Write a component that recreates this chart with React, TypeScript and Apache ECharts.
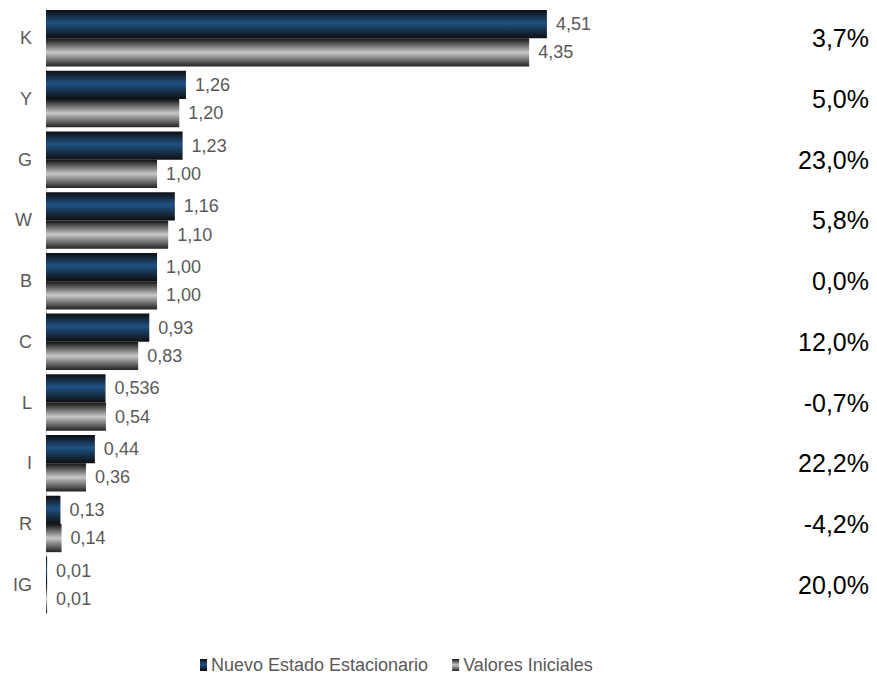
import React, { useEffect, useRef } from "react";
import * as echarts from "echarts";

const categories = ["K", "Y", "G", "W", "B", "C", "L", "I", "R", "IG"];
const nuevoEstado = [4.51, 1.26, 1.23, 1.16, 1.0, 0.93, 0.536, 0.44, 0.13, 0.01];
const valoresIniciales = [4.35, 1.2, 1.0, 1.1, 1.0, 0.83, 0.54, 0.36, 0.14, 0.01];
const variacion = ["3,7%", "5,0%", "23,0%", "5,8%", "0,0%", "12,0%", "-0,7%", "22,2%", "-4,2%", "20,0%"];

const FONT = "'Liberation Sans', Arial, sans-serif";
const GREY = "#595959";

const fmt = (v: number) => {
  const dec = (String(v).split(".")[1] || "").length;
  return v.toFixed(Math.max(2, dec)).replace(".", ",");
};

const blueGrad = new echarts.graphic.LinearGradient(0, 0, 0, 1, [
  { offset: 0, color: "#0e0e10" },
  { offset: 0.45, color: "#1f5283" },
  { offset: 1, color: "#0e0e10" },
]);
const greyGrad = new echarts.graphic.LinearGradient(0, 0, 0, 1, [
  { offset: 0, color: "#111111" },
  { offset: 0.5, color: "#c8c8c8" },
  { offset: 1, color: "#222222" },
]);

export default function App() {
  const ref = useRef<HTMLDivElement>(null);
  useEffect(() => {
    if (!ref.current) return;
    const chart = echarts.init(ref.current, undefined, { renderer: "svg" });
    const label = {
      show: true,
      position: "right" as const,
      distance: 9,
      color: GREY,
      fontSize: 18,
      fontFamily: FONT,
      formatter: (p: any) => fmt(p.value),
    };
    chart.setOption({
      animation: false,
      backgroundColor: "#ffffff",
      textStyle: { fontFamily: FONT },
      grid: { left: 46, right: 8, top: 8, bottom: 62, containLabel: false },
      legend: {
        top: 656,
        left: 200,
        padding: 0,
        itemWidth: 7,
        itemHeight: 12,
        itemGap: 24,
        icon: "rect",
        textStyle: { color: GREY, fontSize: 18, fontFamily: FONT, padding: [0, 0, 0, -1] },
        data: [
          { name: "Nuevo Estado Estacionario", itemStyle: { color: blueGrad } },
          { name: "Valores Iniciales", itemStyle: { color: greyGrad } },
        ],
      },
      xAxis: {
        type: "value",
        min: 0,
        max: 7.41,
        show: false,
      },
      yAxis: [
        {
          type: "category",
          data: categories,
          inverse: true,
          axisLine: { show: true, lineStyle: { color: "#d9d9d9", width: 1 } },
          axisTick: { show: false },
          axisLabel: { color: GREY, fontSize: 18, fontFamily: FONT, margin: 14 },
          splitLine: { show: false },
        },
        {
          type: "category",
          data: variacion,
          inverse: true,
          position: "right",
          axisLine: { show: false },
          axisTick: { show: false },
          axisLabel: {
            inside: true,
            margin: 0,
            color: "#000000",
            fontSize: 25,
            fontFamily: FONT,
          },
          splitLine: { show: false },
        },
      ],
      series: [
        {
          name: "Nuevo Estado Estacionario",
          type: "bar",
          data: nuevoEstado,
          barGap: "0%",
          barCategoryGap: "7%",
          itemStyle: { color: blueGrad },
          label,
        },
        {
          name: "Valores Iniciales",
          type: "bar",
          data: valoresIniciales,
          itemStyle: { color: greyGrad },
          label,
        },
      ],
    });
    return () => chart.dispose();
  }, []);
  return (
    <div
      ref={ref}
      style={{ position: "fixed", left: 0, top: 0, width: 877, height: 677 }}
    />
  );
}
